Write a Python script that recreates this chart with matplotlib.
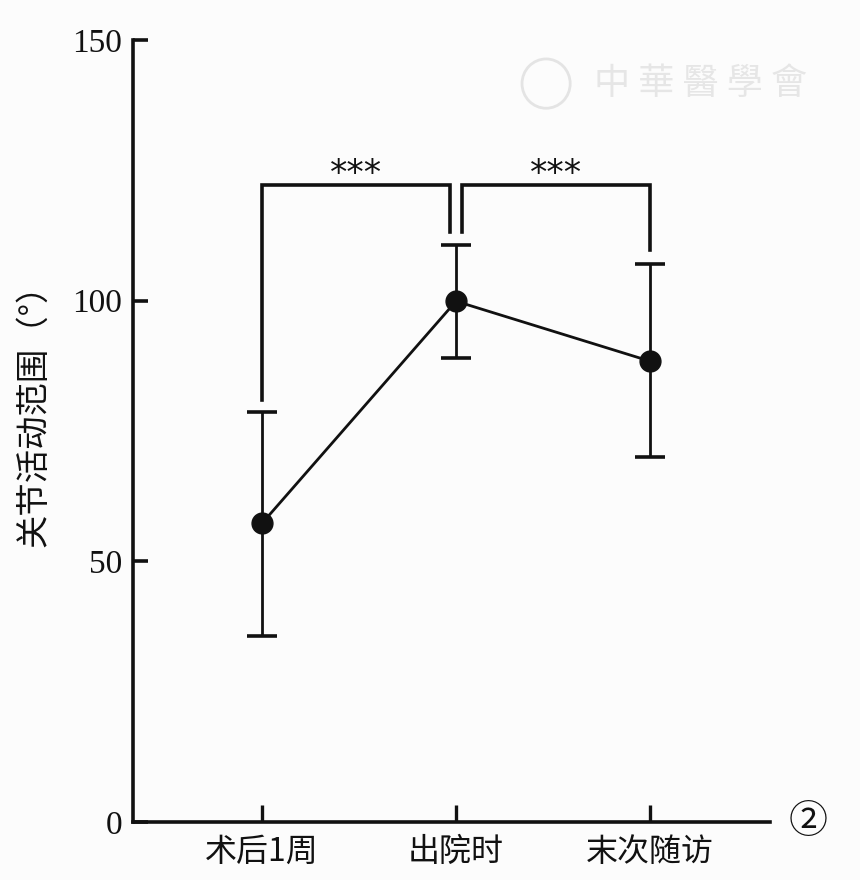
import matplotlib
matplotlib.use("Agg")
import matplotlib.pyplot as plt
from matplotlib.patches import Circle

plt.rcParams['font.family'] = ['Liberation Serif', 'Noto Sans CJK SC', 'DejaVu Sans']

# data
groups = ["术后1周", "出院时", "末次随访"]
means = [57.3, 99.9, 88.4]
err_lo = [21.6, 10.9, 18.4]
err_hi = [21.3, 10.8, 18.6]
yticks = [0, 50, 100, 150]
ylabel = "关节活动范围（°）"

# significance brackets: (x1, x2, top, left leg bottom, right leg bottom, label)
brackets = [(0, 0.97, 122.2, 81.0, 113.2, "***"),
            (1.03, 2, 122.2, 113.2, 109.7, "***")]

ink = "#111111"
fig = plt.figure(figsize=(8.6, 8.8), dpi=100)
fig.patch.set_facecolor("#fcfcfc")
ax = fig.add_axes([0.1547, 0.0659, 0.7407, 0.8886])
ax.set_facecolor("#fcfcfc")

x = list(range(len(groups)))
ax.errorbar(x, means, yerr=[err_lo, err_hi], fmt="o-", color=ink,
            ms=15, lw=2.0, elinewidth=2.0, capsize=11, capthick=2.6)

for x1, x2, top, b1, b2, lab in brackets:
    ax.plot([x1, x1, x2, x2], [b1, top, top, b2], color=ink, lw=2.6,
            solid_joinstyle="miter")
    ax.text((x1 + x2) / 2, top - 1.2, lab, ha="center", va="bottom",
            fontsize=25, family="DejaVu Sans", color=ink)

ax.set_xlim(-0.665, 2.619)
ax.set_ylim(0, 150)
ax.set_xticks(x)
ax.set_xticklabels(groups, fontsize=23, family=['Noto Sans CJK SC'])
ax.set_yticks(yticks)
ax.tick_params(axis="y", direction="in", length=11, width=2.6, labelsize=24,
               pad=8, colors=ink)
ax.tick_params(axis="x", direction="in", length=12, width=2.4, pad=10, colors=ink)
ax.set_ylabel(ylabel, fontsize=24, family=['Noto Sans CJK SC'], color=ink)
ax.yaxis.set_label_coords(-0.128, 0.53)

for s in ["top", "right"]:
    ax.spines[s].set_visible(False)
for s in ["left", "bottom"]:
    ax.spines[s].set_linewidth(2.6)
    ax.spines[s].set_color(ink)

fig.text(0.94, 0.066, "②", fontsize=28, ha="center", va="center", color=ink,
         family=['Noto Sans CJK SC', 'DejaVu Sans'])
# faint watermark
fig.patches.append(Circle((0.635, 0.905), 0.028, transform=fig.transFigure,
                          fill=False, ec="#e4e4e4", lw=2))
fig.text(0.815, 0.905, "中 華 醫 學 會", fontsize=26, ha="center", va="center",
         color="#e6e6e6", family=['Noto Sans CJK SC'], style="italic")

fig.savefig("out.png", dpi=100, facecolor=fig.get_facecolor())
